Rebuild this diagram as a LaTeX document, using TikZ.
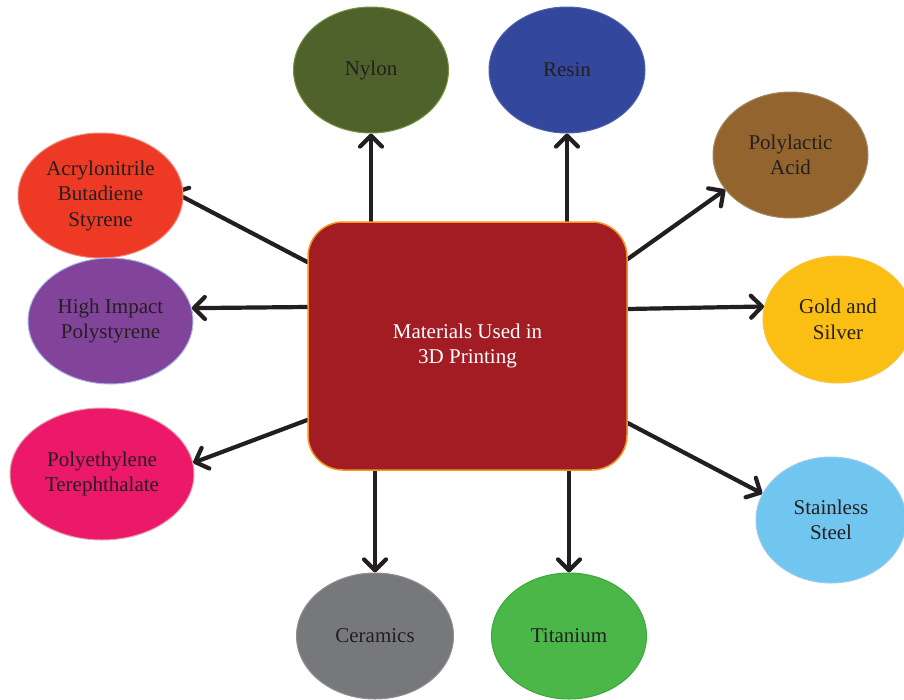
\documentclass[tikz,border=0pt]{standalone}
\usepackage{fontspec}
\setmainfont{Liberation Serif}
\usetikzlibrary{shapes.geometric,arrows.meta}
\pgfdeclarelayer{bg}
\pgfdeclarelayer{paper}
\pgfsetlayers{paper,bg,main}
\definecolor{txt}{HTML}{231F20}
\definecolor{nylonc}{HTML}{4F622B}\definecolor{nylonb}{HTML}{77933C}
\definecolor{resinc}{HTML}{33479C}\definecolor{resinb}{HTML}{4A62B0}
\definecolor{plac}{HTML}{94642F}\definecolor{plab}{HTML}{A08A60}
\definecolor{absc}{HTML}{EE3A24}\definecolor{absb}{HTML}{F08A80}
\definecolor{hipsc}{HTML}{82449A}\definecolor{hipsb}{HTML}{A8B8E8}
\definecolor{goldc}{HTML}{FBBF13}\definecolor{goldb}{HTML}{F6C540}
\definecolor{petc}{HTML}{EC186A}\definecolor{petb}{HTML}{E8A0A8}
\definecolor{steelc}{HTML}{70C6EF}\definecolor{steelb}{HTML}{9CC8F0}
\definecolor{ceramc}{HTML}{77787C}\definecolor{ceramb}{HTML}{909094}
\definecolor{titanc}{HTML}{4BB749}\definecolor{titanb}{HTML}{3AA83A}
\definecolor{boxc}{HTML}{A21C24}\definecolor{boxb}{HTML}{F7941D}
\begin{document}
\begin{tikzpicture}[x=1pt,y=-1pt,
  mat/.style={ellipse, line width=1pt, inner sep=0pt, align=center,
    font=\fontsize{21}{25.5}\selectfont, text=txt},
  arr/.style={line width=4.2pt, draw=txt, line cap=round,
    -{Straight Barb[length=11pt,width=22pt,line cap=round,line join=round]}}]
\useasboundingbox (0,0) rectangle (904,699);
\begin{pgfonlayer}{paper}
\fill[white] (0,0) rectangle (904,699);
\end{pgfonlayer}

\node[rectangle, rounded corners=35pt, fill=boxc, draw=boxb, line width=1.5pt,
  minimum width=319pt, minimum height=248pt, align=center, text=white,
  font=\fontsize{21}{25}\selectfont] (ctr) at (467.5,346) {\raisebox{3pt}{\begin{tabular}{@{}c@{}}Materials Used in\\3D Printing\end{tabular}}};

\node[mat, fill=nylonc, draw=nylonb, minimum width=155pt, minimum height=126pt] (nylon) at (371,70) {Nylon};
\node[mat, fill=resinc, draw=resinb, minimum width=156pt, minimum height=126pt] (resin) at (567,70) {Resin};
\node[mat, fill=plac, draw=plab, minimum width=155pt, minimum height=126pt] (pla) at (790.5,155) {Polylactic\\Acid};
\node[mat, fill=absc, draw=absb, minimum width=165pt, minimum height=125pt] (abs) at (100.5,195.5) {Acrylonitrile\\Butadiene\\Styrene};
\node[mat, fill=hipsc, draw=hipsb, minimum width=165pt, minimum height=126pt] (hips) at (110.5,321) {High Impact\\Polystyrene};
\node[mat, fill=goldc, draw=goldb, minimum width=150pt, minimum height=127pt] (gold) at (838,319.5) {Gold and\\Silver};
\node[mat, fill=petc, draw=petb, minimum width=184pt, minimum height=132pt] (pet) at (102,474) {Polyethylene\\Terephthalate};
\node[mat, fill=steelc, draw=steelb, minimum width=150pt, minimum height=126pt] (steel) at (831,520) {Stainless\\Steel};
\node[mat, fill=ceramc, draw=ceramb, minimum width=157pt, minimum height=126pt] (ceram) at (375,636) {Ceramics};
\node[mat, fill=titanc, draw=titanb, minimum width=155pt, minimum height=126pt] (titan) at (569,636) {Titanium};

\begin{pgfonlayer}{bg}
\draw[arr] (ctr.north -| nylon.south) -- (nylon.south);
\draw[arr] (ctr.north -| resin.south) -- (resin.south);
\draw[arr] (ctr.south -| ceram.north) -- (ceram.north);
\draw[arr] (ctr.south -| titan.north) -- (titan.north);
\draw[arr] ([yshift=87pt]ctr.east) -- (pla.208);
\draw[arr] ([yshift=37pt]ctr.east) -- (gold.170);
\draw[arr] ([yshift=-77pt]ctr.east) -- (steel.159);
\draw[arr] ([yshift=84pt]ctr.west) -- ([xshift=-11pt,yshift=4pt]abs.east);
\draw[arr] ([yshift=39pt]ctr.west) -- (hips.9);
\draw[arr] ([yshift=-74pt]ctr.west) -- (pet.7);
\end{pgfonlayer}
\end{tikzpicture}
\end{document}
